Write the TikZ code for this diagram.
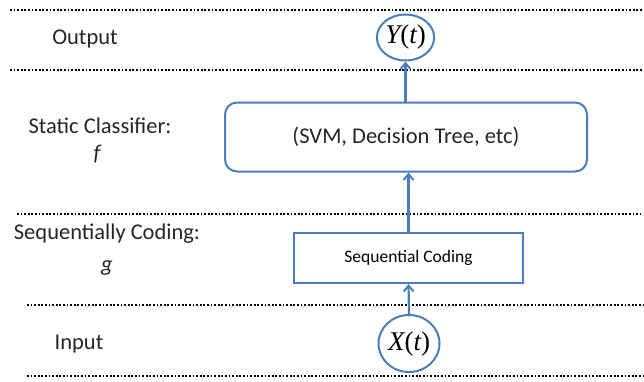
\documentclass[tikz,border=0pt]{standalone}
\usepackage{fontspec}
\setmainfont{Carlito}
\newfontfamily\mathserif{Liberation Serif}
\usetikzlibrary{arrows.meta,shapes.geometric}
\definecolor{lblue}{RGB}{74,126,187}
\definecolor{txt}{RGB}{38,38,38}
\begin{document}
\begin{tikzpicture}[x=1pt,y=-1pt,
  dotline/.style={line width=2.2pt,dash pattern=on 1.8pt off 1.8pt,black},
  lbl/.style={font=\fontsize{22.5}{24}\selectfont,text=txt,inner sep=0pt},
  var/.style={draw=lblue,line width=2pt,ellipse,inner sep=0pt,font=\mathserif\fontsize{27}{28}\selectfont,text=black},
  conn/.style={draw=lblue,line width=2.2pt,-{Straight Barb[length=6pt,width=10pt,line width=2pt]}},
  clsbox/.style={draw=lblue,line width=2pt,rounded corners=12pt,minimum width=362pt,minimum height=69pt,font=\fontsize{22.5}{24}\selectfont,text=txt},
  seqbox/.style={draw=lblue,line width=2pt,minimum width=229pt,minimum height=50pt,font=\fontsize{17.5}{19}\selectfont,text=black}]
\useasboundingbox (0,0) rectangle (644,381);
% dotted separators
\coordinate (l1a) at (10,10);  \coordinate (l1b) at (644,10);
\coordinate (l2a) at (10,70);  \coordinate (l2b) at (644,70);
\coordinate (l3a) at (17,214); \coordinate (l3b) at (640,214);
\coordinate (l4a) at (27,305); \coordinate (l4b) at (644,305);
\coordinate (l5a) at (27,376); \coordinate (l5b) at (644,376);
\draw[dotline] (l1a) -- (l1b);
\draw[dotline] (l2a) -- (l2b);
\draw[dotline] (l3a) -- (l3b);
\draw[dotline] (l4a) -- (l4b);
\draw[dotline] (l5a) -- (l5b);
% left labels
\node[lbl] (out) at (85,39) {Output};
\node[lbl] (stat) at (100,126) {Static Classifier:};
\node[lbl] (f) at (97,154) {\itshape f};
\node[lbl] (seqlbl) at (107,234) {Sequentially Coding:};
\node[lbl] (g) at (107,268) {\itshape g};
\node[lbl] (in) at (79,344) {Input};
% main nodes
\node[var,minimum width=53pt,minimum height=46pt] (Y) at (405.5,37.5) {\itshape Y\upshape(\itshape t\upshape)};
\node[clsbox] (cls) at (406,137) {(SVM, Decision Tree, etc)};
\node[seqbox] (seq) at (408.5,258) {Sequential Coding};
\node[var,minimum width=61pt,minimum height=57pt] (X) at (409,343.5) {\itshape X\upshape(\itshape t\upshape)};
% connectors
\draw[conn] (X.north) -- (seq.south);
\draw[conn] (seq.north) -- (seq.north |- cls.south);
\draw[conn] (Y.south |- cls.north) -- (Y.south);
\end{tikzpicture}
\end{document}
